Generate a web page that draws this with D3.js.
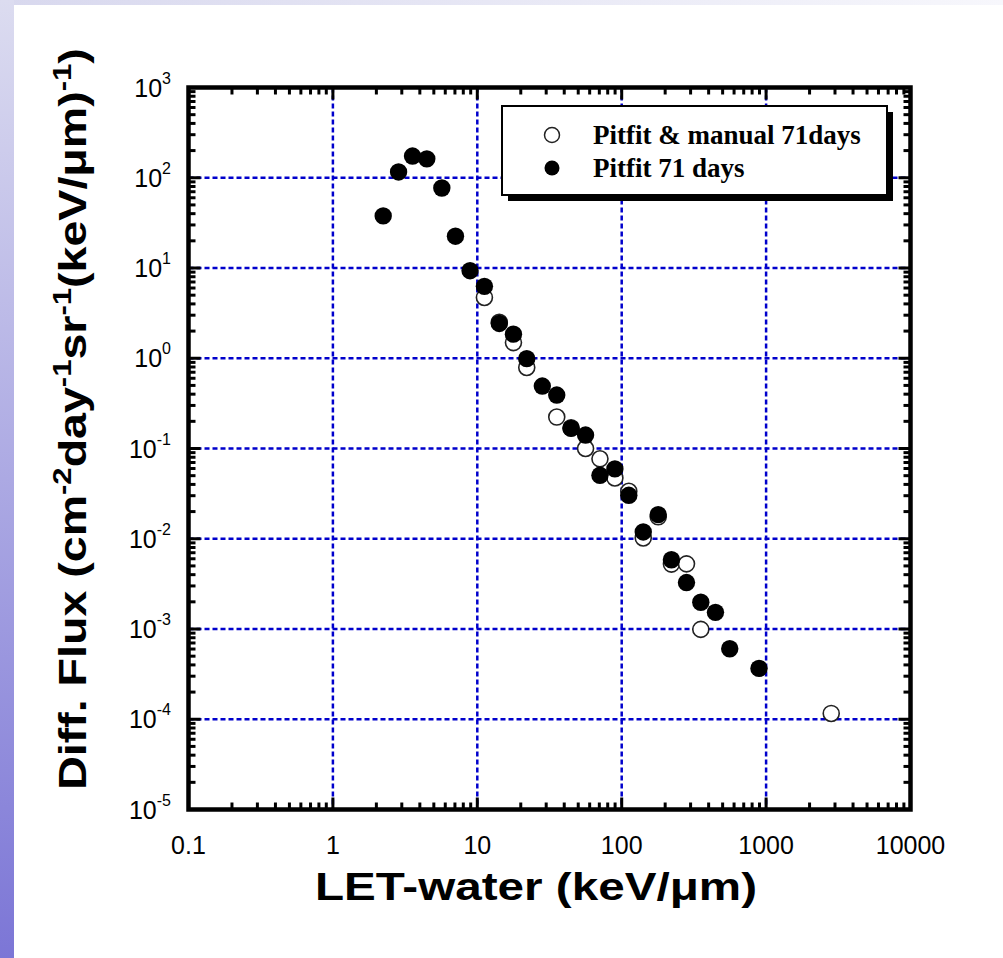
<!DOCTYPE html>
<html>
<head>
<meta charset="utf-8">
<script src="https://cdnjs.cloudflare.com/ajax/libs/d3/7.8.5/d3.min.js"></script>
<style>
  body { margin: 0; background: #fff; }
  svg { display: block; }
</style>
</head>
<body>
<svg id="chart" width="1003" height="958"></svg>
<script>
// data (LET in keV/um, flux per cm2 day sr keV/um)
const openLET   = [11.2, 14.2, 17.8, 22.0, 35.5, 44.6, 56.2, 70.7, 89.7, 112, 141, 179, 221, 281, 353, 2825]
const openFlux  = [4.72, 2.5, 1.49, 0.79, 0.223, 0.17, 0.1, 0.0769, 0.0472, 0.0336, 0.0102, 0.0175, 0.00524, 0.00527, 0.00099, 0.000116]
const filledLET  = [2.23, 2.85, 3.56, 4.47, 5.68, 7.06, 8.91, 11.2, 14.2, 17.8, 22.0, 28.2, 35.5, 44.6, 56.2, 70.7, 89.7, 112, 141, 179, 221, 281, 353, 446, 560, 893]
const filledFlux = [37.8, 116, 174, 162, 77, 22.5, 9.33, 6.26, 2.43, 1.85, 0.99, 0.492, 0.391, 0.167, 0.141, 0.0505, 0.0594, 0.0303, 0.0119, 0.0185, 0.00585, 0.00327, 0.00198, 0.00153, 0.000604, 0.000366]

const xDomain = [0.1, 10000]
const yDomain = [1e-5, 1e3]
const xTickLabels = ['0.1', '1', '10', '100', '1000', '10000']
const yTickExps = ['-5', '-4', '-3', '-2', '-1', '0', '1', '2', '3']
const legendLabels = ['Pitfit & manual 71days', 'Pitfit 71 days']

const svg = d3.select('#chart')
const W = 1003, H = 958
const plot = { left: 188.5, top: 87.5, right: 910.5, bottom: 809.5 }

// background: lavender band on top and a gradient strip on the left
const defs = svg.append('defs')
const gTop = defs.append('linearGradient').attr('id', 'bgTop')
  .attr('x1', 0).attr('y1', 0).attr('x2', 1).attr('y2', 0)
gTop.append('stop').attr('offset', 0).attr('stop-color', '#d8d8ee')
gTop.append('stop').attr('offset', 1).attr('stop-color', '#f7f7fc')
const gLeft = defs.append('linearGradient').attr('id', 'bgLeft')
  .attr('x1', 0).attr('y1', 0).attr('x2', 0).attr('y2', 1)
gLeft.append('stop').attr('offset', 0).attr('stop-color', '#dcdcf0')
gLeft.append('stop').attr('offset', 1).attr('stop-color', '#7c76d6')

svg.append('rect').attr('width', W).attr('height', H).attr('fill', 'url(#bgTop)')
svg.append('rect').attr('width', 14).attr('height', H).attr('fill', 'url(#bgLeft)')
svg.append('rect').attr('x', 14).attr('y', 5).attr('width', W - 14).attr('height', H - 5).attr('fill', '#fff')

const x = d3.scaleLog().domain(xDomain).range([plot.left, plot.right])
const y = d3.scaleLog().domain(yDomain).range([plot.bottom, plot.top])

const isDecade = v => Math.abs(Math.log10(v) - Math.round(Math.log10(v))) < 1e-9

// grid
const grid = svg.append('g')
  .attr('stroke', '#0000cc').attr('stroke-width', 2.5).attr('stroke-dasharray', '5,3')
grid.selectAll('.vg').data(x.ticks().filter(isDecade).slice(1, -1))
  .enter().append('line')
  .attr('x1', d => x(d)).attr('x2', d => x(d))
  .attr('y1', plot.top).attr('y2', plot.bottom)
grid.selectAll('.hg').data(y.ticks().filter(isDecade).slice(1, -1))
  .enter().append('line')
  .attr('y1', d => y(d)).attr('y2', d => y(d))
  .attr('x1', plot.left).attr('x2', plot.right)

// ticks on all four sides, pointing in
const ticks = svg.append('g').attr('stroke', '#000').attr('stroke-width', 3)
const xt = x.ticks().filter(d => d > xDomain[0] && d < xDomain[1])
const yt = y.ticks().filter(d => d > yDomain[0] && d < yDomain[1])
const tl = d => isDecade(d) ? 12 : 7
xt.forEach(d => {
  ticks.append('line').attr('x1', x(d)).attr('x2', x(d)).attr('y1', plot.bottom).attr('y2', plot.bottom - tl(d))
  ticks.append('line').attr('x1', x(d)).attr('x2', x(d)).attr('y1', plot.top).attr('y2', plot.top + tl(d))
})
yt.forEach(d => {
  ticks.append('line').attr('y1', y(d)).attr('y2', y(d)).attr('x1', plot.left).attr('x2', plot.left + tl(d))
  ticks.append('line').attr('y1', y(d)).attr('y2', y(d)).attr('x1', plot.right).attr('x2', plot.right - tl(d))
})

// points: open ones below, filled on top
const openData = openLET.map((v, i) => [v, openFlux[i]])
const filledData = filledLET.map((v, i) => [v, filledFlux[i]])
svg.append('g').selectAll('circle').data(openData).enter().append('circle')
  .attr('cx', d => x(d[0])).attr('cy', d => y(d[1])).attr('r', 8)
  .attr('fill', '#fff').attr('stroke', '#222').attr('stroke-width', 1.6)
svg.append('g').selectAll('circle').data(filledData).enter().append('circle')
  .attr('cx', d => x(d[0])).attr('cy', d => y(d[1])).attr('r', 8.7)
  .attr('fill', '#000')

// frame
svg.append('rect')
  .attr('x', plot.left).attr('y', plot.top)
  .attr('width', plot.right - plot.left).attr('height', plot.bottom - plot.top)
  .attr('fill', 'none').attr('stroke', '#000').attr('stroke-width', 4.5)

// legend with drop shadow
const lg = svg.append('g')
lg.append('rect').attr('x', 508).attr('y', 112).attr('width', 385).attr('height', 89).attr('fill', '#000')
lg.append('rect').attr('x', 502).attr('y', 106).attr('width', 385).attr('height', 89)
  .attr('fill', '#fff').attr('stroke', '#000').attr('stroke-width', 2)
legendLabels.forEach((t, i) => {
  const by = 144 + i * 33
  lg.append('circle').attr('cx', 552).attr('cy', by - 9).attr('r', 7.5)
    .attr('fill', i == 0 ? '#fff' : '#000').attr('stroke', i == 0 ? '#222' : 'none').attr('stroke-width', 1.5)
  lg.append('text').attr('x', 593).attr('y', by)
    .style('font-family', '"Liberation Serif", "Times New Roman", serif')
    .style('font-weight', 'bold').style('font-size', '27px')
    .text(t)
})

// x tick labels
const sans = '"Liberation Sans", Arial, sans-serif'
svg.append('g').selectAll('text').data(xTickLabels).enter().append('text')
  .attr('x', d => x(+d)).attr('y', 854)
  .attr('text-anchor', 'middle')
  .style('font-family', sans).style('font-size', '25px')
  .text(d => d)

// y tick labels: 10 with superscript
yTickExps.forEach(e => {
  const t = svg.append('text')
    .attr('x', 171).attr('y', y(Math.pow(10, +e)) + 9)
    .attr('text-anchor', 'end')
    .style('font-family', sans).style('font-size', '25px')
  t.append('tspan').text('10')
  t.append('tspan').attr('dy', -13).style('font-size', '16px').text(e)
})

// x title
svg.append('text')
  .attr('x', 536).attr('y', 900)
  .attr('text-anchor', 'middle')
  .attr('textLength', 442).attr('lengthAdjust', 'spacingAndGlyphs')
  .style('font-family', sans).style('font-weight', 'bold').style('font-size', '39px')
  .text('LET-water (keV/\u03bcm)')

// y title, scaled to the reference length
const yTitleParts = [['Diff. Flux (cm', 0], ['-2', 1], ['day', 0], ['-1', 1], ['sr', 0], ['-1', 1], ['(keV/\u03bcm)', 0], ['-1', 1], [')', 0]]
const yt0 = svg.append('text')
  .attr('text-anchor', 'middle')
  .style('font-family', sans).style('font-weight', 'bold').style('font-size', '39px')
let up = false
yTitleParts.forEach(([s, sup]) => {
  const sp = yt0.append('tspan').text(s)
  if (sup && !up) { sp.attr('dy', -15).style('font-size', '26px'); up = true }
  else if (sup) sp.style('font-size', '26px')
  else if (up) { sp.attr('dy', 15); up = false }
})
const natural = yt0.node().getComputedTextLength()
yt0.attr('transform', `translate(86,419) rotate(-90) scale(${742 / natural},1)`)
</script>
</body>
</html>
